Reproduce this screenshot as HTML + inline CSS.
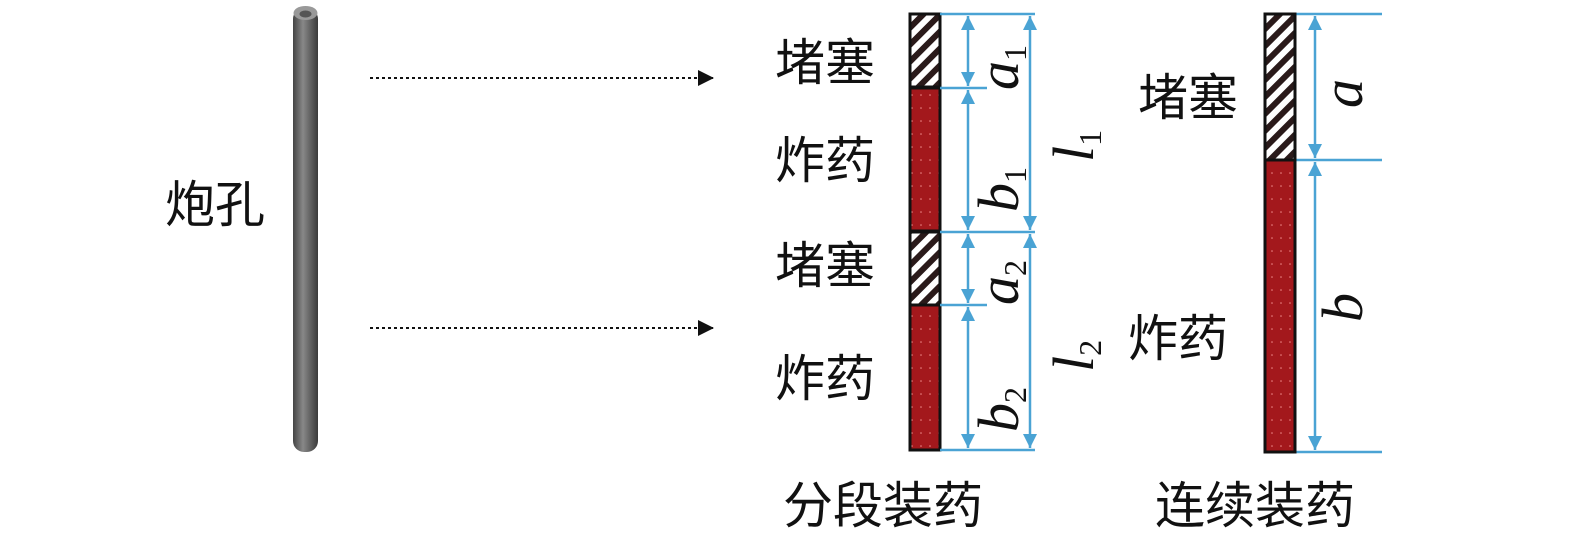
<!DOCTYPE html>
<html><head><meta charset="utf-8"><style>
body{margin:0;background:#fff;width:1575px;height:533px;overflow:hidden}
.c{font-family:"Liberation Sans","Noto Sans CJK SC",sans-serif}
.s{font-family:"Liberation Serif",serif;font-style:italic}
.s tspan{font-style:normal}
</style></head><body>
<svg width="1575" height="533" viewBox="0 0 1575 533">
<defs>
<pattern id="h" width="12" height="12" patternUnits="userSpaceOnUse" patternTransform="rotate(45)">
<rect width="12" height="12" fill="#fff"/><rect width="6" height="12" fill="#2a1a1a"/></pattern>
<pattern id="r" width="9" height="13" patternUnits="userSpaceOnUse">
<rect width="9" height="13" fill="#a3181c"/><circle cx="3" cy="4" r="0.8" fill="#e88"/></pattern>
<linearGradient id="t" x1="0" x2="1"><stop offset="0" stop-color="#444"/><stop offset=".4" stop-color="#888"/><stop offset="1" stop-color="#3a3a3a"/></linearGradient>
<marker id="ar" markerWidth="16" markerHeight="16" refX="14" refY="7" orient="auto-start-reverse" markerUnits="userSpaceOnUse"><path d="M0,0L14,7L0,14z" fill="#4aa3d4"/></marker>
<marker id="bk" markerWidth="16" markerHeight="16" refX="15" refY="8" orient="auto" markerUnits="userSpaceOnUse"><path d="M0,0L16,8L0,16z" fill="#111"/></marker>
</defs>
<rect x="293" y="8" width="25" height="444" rx="11" fill="url(#t)"/>
<ellipse cx="305.5" cy="13" rx="12" ry="7" fill="#999"/>
<ellipse cx="305.5" cy="14" rx="6" ry="3.5" fill="#555"/>
<line x1="370" y1="78" x2="713" y2="78" stroke="#111" stroke-width="2" stroke-dasharray="3,3" marker-end="url(#bk)"/>
<line x1="370" y1="328" x2="713" y2="328" stroke="#111" stroke-width="2" stroke-dasharray="3,3" marker-end="url(#bk)"/>
<rect x="910" y="14" width="30" height="73" fill="url(#h)" stroke="#111" stroke-width="3"/>
<rect x="910" y="88" width="30" height="143" fill="url(#r)" stroke="#111" stroke-width="3"/>
<rect x="910" y="232" width="30" height="73" fill="url(#h)" stroke="#111" stroke-width="3"/>
<rect x="910" y="305" width="30" height="145" fill="url(#r)" stroke="#111" stroke-width="3"/>
<g stroke="#4aa3d4" stroke-width="2.5">
<line x1="940" y1="14" x2="1035" y2="14"/>
<line x1="940" y1="88" x2="987" y2="88"/>
<line x1="940" y1="232" x2="1035" y2="232"/>
<line x1="940" y1="305" x2="987" y2="305"/>
<line x1="940" y1="450" x2="1035" y2="450"/>
<g marker-start="url(#ar)" marker-end="url(#ar)">
<line x1="968" y1="16" x2="968" y2="86"/>
<line x1="968" y1="90" x2="968" y2="230"/>
<line x1="968" y1="234" x2="968" y2="303"/>
<line x1="968" y1="307" x2="968" y2="448"/>
<line x1="1030" y1="16" x2="1030" y2="230"/>
<line x1="1030" y1="234" x2="1030" y2="448"/>
</g>
<line x1="1295" y1="14" x2="1382" y2="14"/>
<line x1="1295" y1="160" x2="1382" y2="160"/>
<line x1="1295" y1="452" x2="1382" y2="452"/>
<g marker-start="url(#ar)" marker-end="url(#ar)">
<line x1="1315" y1="16" x2="1315" y2="158"/>
<line x1="1315" y1="162" x2="1315" y2="450"/>
</g>
</g>
<rect x="1265" y="14" width="30" height="146" fill="url(#h)" stroke="#111" stroke-width="3"/>
<rect x="1265" y="160" width="30" height="292" fill="url(#r)" stroke="#111" stroke-width="3"/>
<g class="s" font-size="58" fill="#111">
<text transform="translate(1018,90) rotate(-90)">a<tspan font-size="32" dy="8">1</tspan></text>
<text transform="translate(1018,212) rotate(-90)">b<tspan font-size="32" dy="8">1</tspan></text>
<text transform="translate(1093,162) rotate(-90)">l<tspan font-size="32" dy="8">1</tspan></text>
<text transform="translate(1018,305) rotate(-90)">a<tspan font-size="32" dy="8">2</tspan></text>
<text transform="translate(1018,432) rotate(-90)">b<tspan font-size="32" dy="8">2</tspan></text>
<text transform="translate(1093,372) rotate(-90)">l<tspan font-size="32" dy="8">2</tspan></text>
<text transform="translate(1362,108) rotate(-90)">a</text>
<text transform="translate(1362,322) rotate(-90)">b</text>
</g>
<g class="c" font-size="50" fill="#111">
<text x="165" y="222">炮孔</text>
<text x="775" y="80">堵塞</text>
<text x="775" y="178">炸药</text>
<text x="775" y="283">堵塞</text>
<text x="775" y="396">炸药</text>
<text x="1138" y="115">堵塞</text>
<text x="1128" y="356">炸药</text>
<text x="783" y="523">分段装药</text>
<text x="1155" y="523">连续装药</text>
</g>
</svg>
</body></html>
